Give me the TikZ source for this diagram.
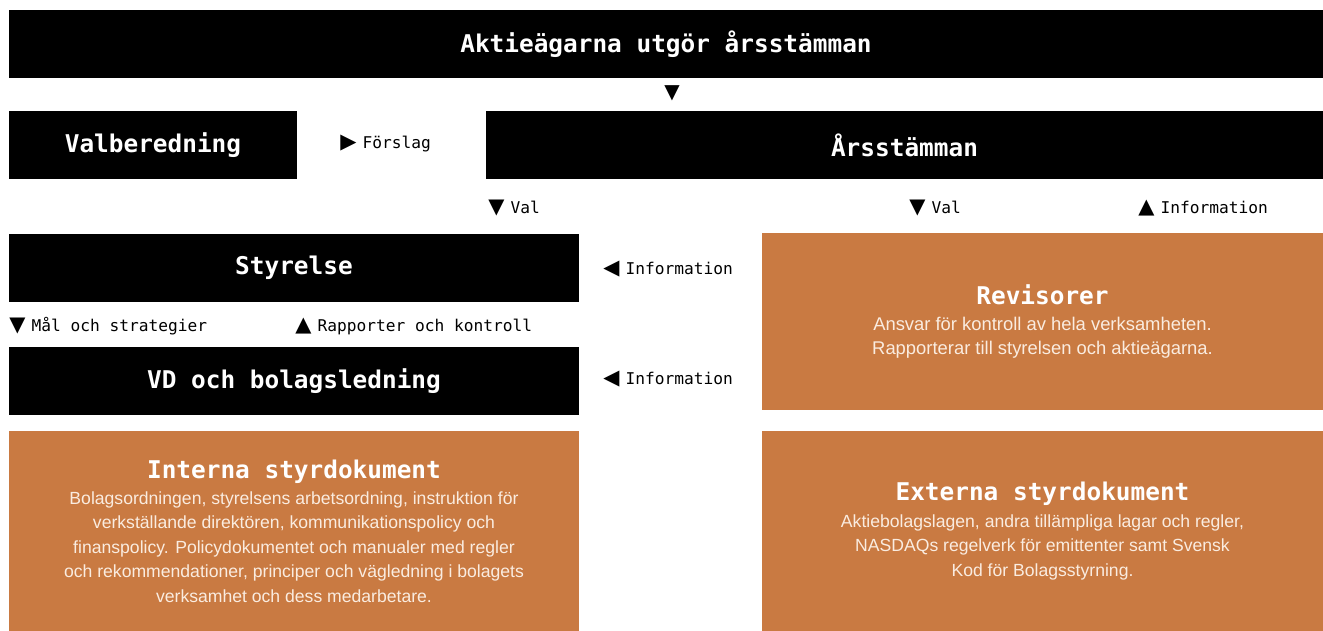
\documentclass[tikz,border=0pt]{standalone}
\usepackage{fontspec}
\setmainfont{Liberation Sans}
\newfontfamily\monofont{DejaVu Sans Mono}
\newfontfamily\glyphfont{DejaVu Sans}

\definecolor{rust}{RGB}{201,122,66}
\definecolor{cream}{RGB}{250,236,224}

\newcommand{\headtext}{\monofont\bfseries\fontsize{12.2}{14}\selectfont}
\newcommand{\labeltext}{\monofont\fontsize{8.1}{10}\selectfont}
\newcommand{\bodytext}{\fontsize{8.8}{12.2}\selectfont}
\newcommand{\tri}[1]{{\glyphfont\fontsize{10.5}{10}\selectfont #1}\hspace{3pt}}

\begin{document}
\begin{tikzpicture}[x=0.5pt, y=-0.5pt,
    blackbox/.style={fill=black, text=white, inner sep=0pt, minimum height=34pt, font=\headtext},
    rustbox/.style={fill=rust, text=cream, inner sep=0pt, align=center, font=\bodytext},
    flow/.style={anchor=west, inner sep=0pt, font=\labeltext}]

    \useasboundingbox (0,0) rectangle (1323,631);

    \node[blackbox, minimum width=657pt] (owners) at (666,44.5) {Aktieägarna utgör årsstämman};
    \node[inner sep=0pt, font=\glyphfont\fontsize{10}{10}\selectfont] (down) at (672,93) {▼};

    \node[blackbox, minimum width=144pt] (nomination) at (153,145) {Valberedning};
    \node[blackbox, minimum width=418.5pt] (agm) at (904.5,145) {Årsstämman};
    \node[flow] (proposal) at (340,143) {\tri{▶}Förslag};

    \node[flow] (electboard) at (488,208) {\tri{▼}Val};
    \node[flow] (electaudit) at (909,208) {\tri{▼}Val};
    \node[flow] (infoagm) at (1138,208) {\tri{▲}Information};

    \node[blackbox, minimum width=285pt] (board) at (294,268) {Styrelse};
    \node[flow] (infoboard) at (603,269) {\tri{◀}Information};

    \node[flow] (goals) at (9,326) {\tri{▼}Mål och strategier};
    \node[flow] (reports) at (295,326) {\tri{▲}Rapporter och kontroll};

    \node[blackbox, minimum width=285pt] (ceo) at (294,381) {VD och bolagsledning};
    \node[flow] (infoceo) at (603,379) {\tri{◀}Information};

    \node[rustbox, minimum width=280.5pt, minimum height=88.5pt, font=\fontsize{9.2}{12.2}\selectfont] (auditors) at (1042.5,321.5)
        {\textcolor{white}{\headtext Revisorer}\\[1pt]
         Ansvar för kontroll av hela verksamheten.\\
         Rapporterar till styrelsen och aktieägarna.};

    \node[rustbox, minimum width=285pt, minimum height=100pt] (internal) at (294,531)
        {\textcolor{white}{\headtext Interna styrdokument}\\[1pt]
         Bolagsordningen, styrelsens arbetsordning, instruktion för\\
         verkställande direktören, kommunikationspolicy och\\
         finanspolicy. Policydokumentet och manualer med regler\\
         och rekommendationer, principer och vägledning i bolagets\\
         verksamhet och dess medarbetare.};

    \node[rustbox, minimum width=280.5pt, minimum height=100pt] (external) at (1042.5,531)
        {\textcolor{white}{\headtext Externa styrdokument}\\[1pt]
         Aktiebolagslagen, andra tillämpliga lagar och regler,\\
         NASDAQs regelverk för emittenter samt Svensk\\
         Kod för Bolagsstyrning.};

\end{tikzpicture}
\end{document}
